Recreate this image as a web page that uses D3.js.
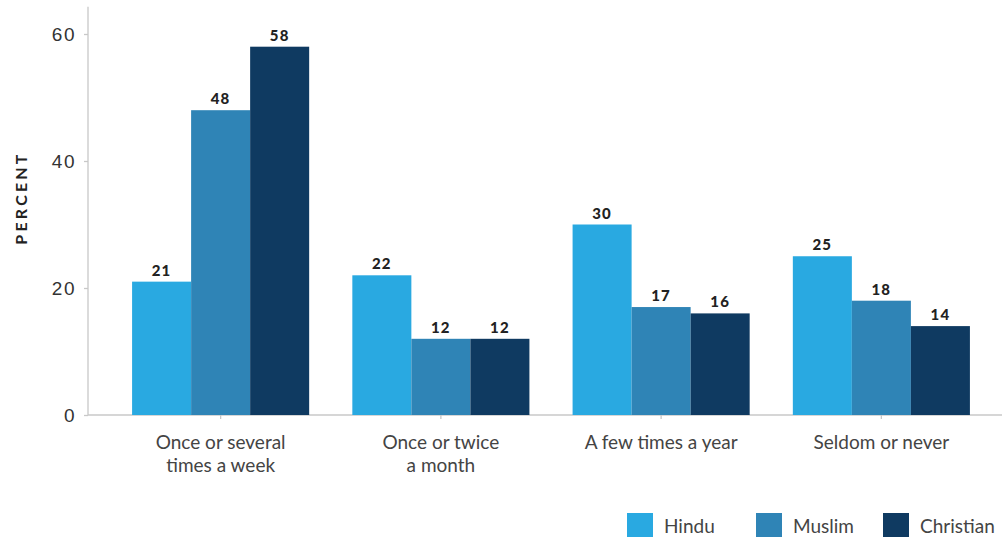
<!DOCTYPE html>
<html>
<head>
<meta charset="utf-8">
<script src="https://cdn.jsdelivr.net/npm/d3@7/dist/d3.min.js"></script>
<style>
  html, body { margin: 0; padding: 0; background: #fff; }
  svg { display: block; font-family: Lato, "Open Sans", sans-serif; }
</style>
</head>
<body>
<svg id="chart" width="1002" height="537"></svg>
<script>
// Frequency of attendance by religious group
const categories = [
  ["Once or several", "times a week"],
  ["Once or twice", "a month"],
  ["A few times a year"],
  ["Seldom or never"]
];
const seriesNames = ["Hindu", "Muslim", "Christian"];
const hindu = [21, 22, 30, 25];
const muslim = [48, 12, 17, 18];
const christian = [58, 12, 16, 14];
const yTicks = [0, 20, 40, 60];

const colors = ["#29a9e1", "#2f84b6", "#0f3a61"];
const seriesValues = [hindu, muslim, christian];

const svg = d3.select("#chart");

const x0 = d3.scaleBand()
  .domain(d3.range(categories.length))
  .range([110.5, 991.5])
  .paddingInner(0.196)
  .paddingOuter(0.098);

const x1 = d3.scaleBand()
  .domain(seriesNames)
  .range([0, x0.bandwidth()]);

const y = d3.scaleLinear().domain([0, 60]).range([415, 34]);

// y axis
const yAxis = svg.append("g")
  .attr("transform", "translate(88,0)")
  .call(d3.axisLeft(y).tickValues(yTicks).tickSize(4).tickPadding(8));
yAxis.select(".domain").attr("d", `M0,${y(64.3)}V${y(0)}`);
yAxis.selectAll("line, .domain").attr("stroke", "#c8c8c8").attr("stroke-width", 1.3);
yAxis.selectAll("text")
  .attr("fill", "#333")
  .style("font-size", "19px")
  .style("letter-spacing", "1.5px");

// x axis baseline and category ticks
svg.append("line")
  .attr("x1", 88).attr("x2", 1002)
  .attr("y1", y(0)).attr("y2", y(0))
  .attr("stroke", "#c8c8c8").attr("stroke-width", 1.3);

const catG = svg.append("g").selectAll("g")
  .data(categories)
  .join("g")
  .attr("transform", (d, i) => `translate(${x0(i) + x0.bandwidth() / 2},0)`);

catG.append("line")
  .attr("y1", y(0)).attr("y2", y(0) + 4)
  .attr("stroke", "#c8c8c8").attr("stroke-width", 1.3);

catG.append("text")
  .attr("text-anchor", "middle")
  .attr("fill", "#444")
  .style("font-size", "19px")
  .selectAll("tspan")
  .data(d => d)
  .join("tspan")
  .attr("x", 0)
  .attr("y", (d, i) => 449 + i * 23)
  .text(d => d);

// bars
const groups = svg.append("g").selectAll("g")
  .data(categories.map((c, i) => seriesNames.map((s, k) => ({ s, k, v: seriesValues[k][i] }))))
  .join("g")
  .attr("transform", (d, i) => `translate(${x0(i)},0)`);

groups.selectAll("rect")
  .data(d => d)
  .join("rect")
  .attr("x", d => x1(d.s))
  .attr("width", x1.bandwidth())
  .attr("y", d => y(d.v))
  .attr("height", d => y(0) - y(d.v))
  .attr("fill", d => colors[d.k]);

groups.selectAll("text")
  .data(d => d)
  .join("text")
  .attr("x", d => x1(d.s) + x1.bandwidth() / 2)
  .attr("y", d => y(d.v) - 6)
  .attr("text-anchor", "middle")
  .attr("fill", "#222")
  .style("font-size", "15px")
  .style("font-weight", "900")
  .style("letter-spacing", "1.2px")
  .text(d => d.v);

// y axis title
svg.append("text")
  .attr("transform", "translate(27,198) rotate(-90)")
  .attr("text-anchor", "middle")
  .attr("fill", "#222")
  .style("font-size", "16px")
  .style("font-weight", "700")
  .style("letter-spacing", "3.2px")
  .text("PERCENT");

// legend
const legendX = [627, 756, 883];
const legend = svg.append("g").selectAll("g")
  .data(seriesNames)
  .join("g")
  .attr("transform", (d, i) => `translate(${legendX[i]},513)`);
legend.append("rect")
  .attr("width", 26).attr("height", 26)
  .attr("fill", (d, i) => colors[i]);
legend.append("text")
  .attr("x", 37).attr("y", 20)
  .attr("fill", "#444")
  .style("font-size", "19px")
  .text(d => d);
</script>
</body>
</html>
